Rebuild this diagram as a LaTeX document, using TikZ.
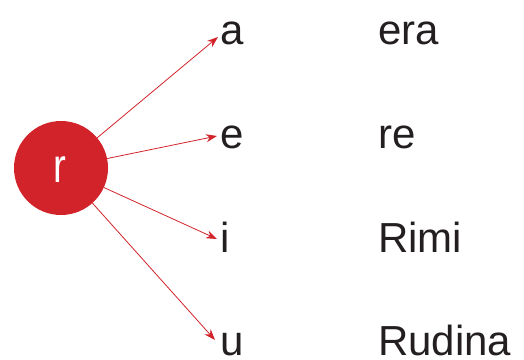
\documentclass[tikz,border=0pt]{standalone}
\usepackage{fontspec}
\setmainfont{Liberation Sans}
\usetikzlibrary{arrows.meta}
\definecolor{rred}{HTML}{D2232A}
\definecolor{ink}{HTML}{231F20}
\begin{document}
\begin{tikzpicture}[x=1pt,y=-1pt,
  lbl/.style={anchor=base west,inner sep=0pt,text=ink,font=\fontsize{42}{42}\selectfont},
  arr/.style={draw=rred,line width=0.8pt,-{Stealth[length=11pt,width=8pt]}}]
\useasboundingbox (0,0) rectangle (524,359);
\node[circle,fill=rred,minimum size=94pt,inner sep=0pt] (r) at (61,168) {};
\node[anchor=base,inner sep=0pt,text=white,font=\fontsize{48}{48}\selectfont,xscale=0.8] (rt) at (60,182) {r};
\node[lbl] (a) at (220,44) {a};
\node[lbl] (e) at (220,148) {e};
\node[lbl] (i) at (220,252) {i};
\node[lbl] (u) at (220,355) {u};
\node[lbl] (w1) at (378,44) {era};
\node[lbl] (w2) at (378,148) {re};
\node[lbl] (w3) at (378,252) {Rimi};
\node[lbl] (w4) at (378,355) {Rudina};
\coordinate (ta) at (218,37);
\coordinate (te) at (217,136);
\coordinate (ti) at (217,239);
\coordinate (tu) at (215,340);
\draw[arr] (r) -- (ta);
\draw[arr] (r) -- (te);
\draw[arr] (r) -- (ti);
\draw[arr] (r) -- (tu);
\end{tikzpicture}
\end{document}
